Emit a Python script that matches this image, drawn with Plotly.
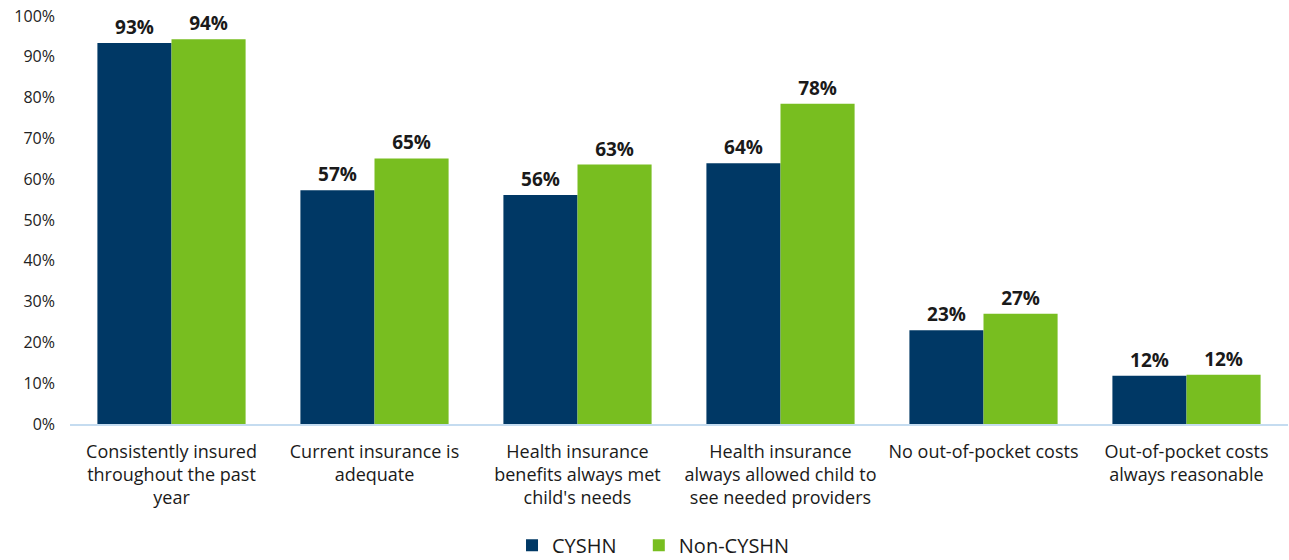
import plotly.graph_objects as go

categories = [
    "Consistently insured<br>throughout the past<br>year",
    "Current insurance is<br>adequate",
    "Health insurance<br>benefits always met<br>child's needs",
    "Health insurance<br>always allowed child to<br>see needed providers",
    "No out-of-pocket costs",
    "Out-of-pocket costs<br>always reasonable",
]
cyshn = [93.4, 57.3, 56.1, 63.9, 23.0, 11.8]
non_cyshn = [94.3, 65.1, 63.6, 78.5, 27.0, 12.1]
cyshn_labels = ["93%", "57%", "56%", "64%", "23%", "12%"]
non_cyshn_labels = ["94%", "65%", "63%", "78%", "27%", "12%"]
y_ticks = [0, 10, 20, 30, 40, 50, 60, 70, 80, 90, 100]
y_tick_labels = [f"{v}%" for v in y_ticks]

FONT = "Open Sans"
fig = go.Figure()
fig.add_trace(go.Bar(
    x=categories, y=cyshn, name="CYSHN", marker_color="#003865",
    marker_line_width=0, legend="legend", showlegend=True,
    text=cyshn_labels, textposition="outside", cliponaxis=False,
    textfont=dict(family=FONT, size=19, color="#1a1a1a", weight="bold"),
))
fig.add_trace(go.Bar(
    x=categories, y=non_cyshn, name="Non-CYSHN", marker_color="#78BE20",
    marker_line_width=0, legend="legend2", showlegend=True,
    text=non_cyshn_labels, textposition="outside", cliponaxis=False,
    textfont=dict(family=FONT, size=19, color="#1a1a1a", weight="bold"),
))

legend_common = dict(orientation="h", xanchor="left", y=-0.297, yanchor="middle",
                     font=dict(family=FONT, size=20, color="#1a1a1a"), itemwidth=30,
                     bgcolor="rgba(0,0,0,0)", visible=True)
fig.update_layout(
    width=1289, height=560,
    showlegend=True,
    margin=dict(l=70, r=1, t=16, b=136, autoexpand=False),
    paper_bgcolor="white", plot_bgcolor="white",
    barmode="group", bargap=0.27, bargroupgap=0,
    font=dict(family=FONT, color="#222222"),
    legend=dict(x=0.3629, **legend_common),
    legend2=dict(x=0.467, **legend_common),
)
fig.update_yaxes(
    range=[0, 100], tickvals=y_ticks, ticktext=y_tick_labels,
    showgrid=False, zeroline=False, showline=False, automargin=False,
    tickfont=dict(family=FONT, size=16, color="#222222"),
    ticklabelstandoff=14,
)
fig.update_xaxes(
    showline=True, linecolor="#C5DCF0", linewidth=2, automargin=False,
    tickfont=dict(family=FONT, size=18, color="#1a1a1a"),
    ticks="", tickangle=0, ticklabelstandoff=10,
)

fig.write_html("out.html")
